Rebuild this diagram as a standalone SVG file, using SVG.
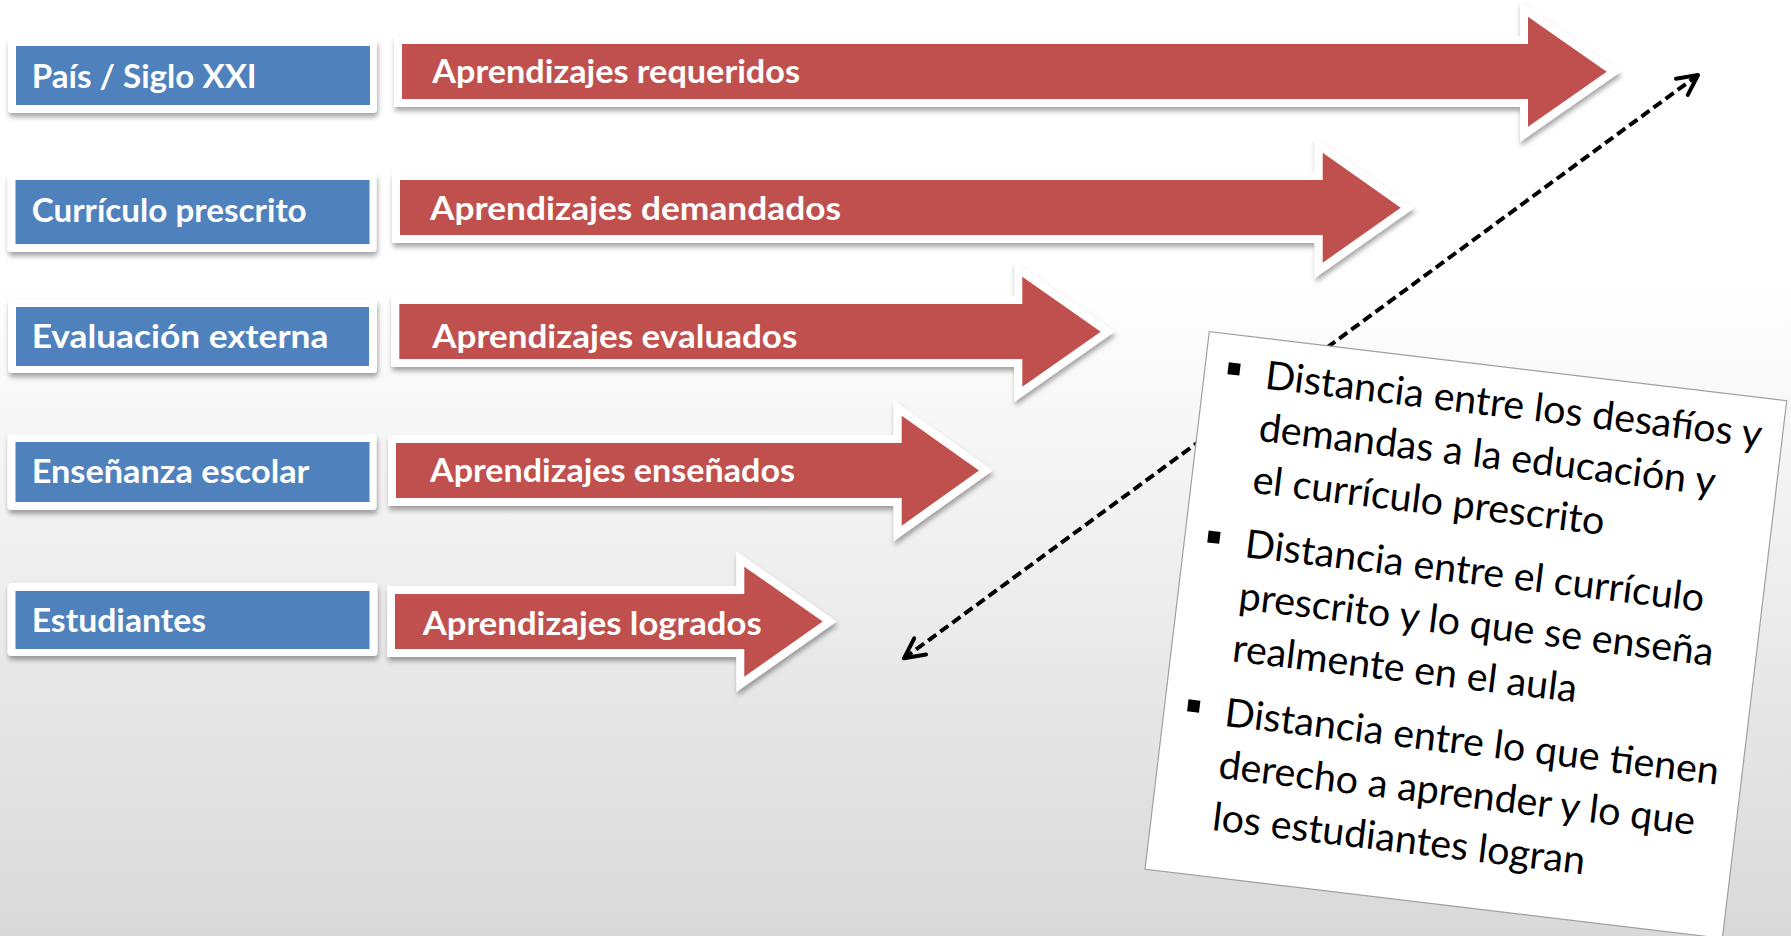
<svg xmlns="http://www.w3.org/2000/svg" width="1791" height="936" viewBox="0 0 1791 936">
<defs>
<linearGradient id="bg" x1="0" y1="0" x2="0" y2="1">
<stop offset="0" stop-color="#ffffff"/>
<stop offset="0.3" stop-color="#ffffff"/>
<stop offset="1" stop-color="#d9d9d9"/>
</linearGradient>
<filter id="sh" x="-5%" y="-30%" width="110%" height="170%">
<feDropShadow dx="1" dy="4" stdDeviation="2.5" flood-color="#000" flood-opacity="0.35"/>
</filter>
<marker id="chev" viewBox="-26 -15 30 30" markerWidth="30" markerHeight="30" refX="0" refY="0" orient="auto-start-reverse" markerUnits="userSpaceOnUse">
<path d="M-20,-10 L0,0 L-20,10" fill="none" stroke="#000" stroke-width="4" stroke-linecap="round" stroke-linejoin="round"/>
</marker>
</defs>
<style>
.frame{fill:#ffffff;filter:url(#sh);}
.blue{fill:#4f81bd;}
.aw{fill:#ffffff;stroke:#ffffff;stroke-width:16;stroke-linejoin:miter;filter:url(#sh);}
.ar{fill:#c0504d;}
.lbl{font-family:Lato,"Open Sans","Liberation Sans",sans-serif;font-size:33px;font-weight:bold;fill:#ffffff;}
.note{font-family:Lato,"Liberation Sans",sans-serif;font-size:39.4px;fill:#000000;}
.dash{fill:none;stroke:#000;stroke-width:4;stroke-dasharray:10 5;marker-start:url(#chev);marker-end:url(#chev);}
</style>
<rect x="0" y="0" width="1791" height="936" fill="url(#bg)"/>

<g id="node-pais">
<rect class="frame" x="8" y="39" width="369" height="74" rx="4"/>
<rect class="blue" x="16" y="46" width="354" height="59"/>
<text class="lbl" x="31.7" y="88.3" textLength="225" lengthAdjust="spacingAndGlyphs">País / Siglo XXI</text>
</g>
<g id="node-curriculo">
<rect class="frame" x="7.5" y="173" width="369" height="79" rx="4"/>
<rect class="blue" x="15.5" y="180" width="354" height="64"/>
<text class="lbl" x="31.7" y="221.7" textLength="275" lengthAdjust="spacingAndGlyphs">Currículo prescrito</text>
</g>
<g id="node-evaluacion">
<rect class="frame" x="8" y="299" width="369" height="74" rx="4"/>
<rect class="blue" x="16" y="307" width="353" height="59"/>
<text class="lbl" x="31.7" y="348.3" textLength="296.7" lengthAdjust="spacingAndGlyphs">Evaluación externa</text>
</g>
<g id="node-ensenanza">
<rect class="frame" x="7.5" y="434" width="369" height="76" rx="4"/>
<rect class="blue" x="15.5" y="442" width="354" height="60"/>
<text class="lbl" x="31.7" y="483.3" textLength="277.7" lengthAdjust="spacingAndGlyphs">Enseñanza escolar</text>
</g>
<g id="node-estudiantes">
<rect class="frame" x="7.5" y="583" width="370" height="73" rx="4"/>
<rect class="blue" x="15.5" y="591" width="354" height="58"/>
<text class="lbl" x="31.7" y="631.7" textLength="174.3" lengthAdjust="spacingAndGlyphs">Estudiantes</text>
</g>

<g id="arrow-requeridos">
<path class="aw" d="M402,44 H1528 V16.7 L1606.7,71.7 L1528,126.7 V99 H402 Z"/>
<path class="ar" d="M402,44 H1528 V16.7 L1606.7,71.7 L1528,126.7 V99 H402 Z"/>
<text class="lbl" x="432.3" y="83.3" textLength="367.7" lengthAdjust="spacingAndGlyphs">Aprendizajes requeridos</text>
</g>
<g id="arrow-demandados">
<path class="aw" d="M400,180 H1322.7 V152.7 L1400.7,207.7 L1322.7,262.7 V235 H400 Z"/>
<path class="ar" d="M400,180 H1322.7 V152.7 L1400.7,207.7 L1322.7,262.7 V235 H400 Z"/>
<text class="lbl" x="430" y="220" textLength="411" lengthAdjust="spacingAndGlyphs">Aprendizajes demandados</text>
</g>
<g id="arrow-evaluados">
<path class="aw" d="M399.3,304 H1022.3 V276.7 L1100.7,331.7 L1022.3,386.7 V359 H399.3 Z"/>
<path class="ar" d="M399.3,304 H1022.3 V276.7 L1100.7,331.7 L1022.3,386.7 V359 H399.3 Z"/>
<text class="lbl" x="432.3" y="348.3" textLength="365" lengthAdjust="spacingAndGlyphs">Aprendizajes evaluados</text>
</g>
<g id="arrow-ensenados">
<path class="aw" d="M396,443 H901.7 V415.7 L979,470.5 L901.7,525.7 V498 H396 Z"/>
<path class="ar" d="M396,443 H901.7 V415.7 L979,470.5 L901.7,525.7 V498 H396 Z"/>
<text class="lbl" x="430" y="481.7" textLength="365" lengthAdjust="spacingAndGlyphs">Aprendizajes enseñados</text>
</g>
<g id="arrow-logrados">
<path class="aw" d="M395,594 H744.3 V566.7 L822.7,621.5 L744.3,676.7 V649 H395 Z"/>
<path class="ar" d="M395,594 H744.3 V566.7 L822.7,621.5 L744.3,676.7 V649 H395 Z"/>
<text class="lbl" x="422.7" y="635" textLength="339" lengthAdjust="spacingAndGlyphs">Aprendizajes logrados</text>
</g>

<g id="connectors">
<path class="dash" d="M904,658.3 L1698,75"/>
</g>

<g id="node-distancias" transform="translate(1209.3,331.7) rotate(6.82)">
<rect x="0" y="0" width="581.5" height="541.4" fill="#ffffff" stroke="#a0a0a0" stroke-width="1.2"/>
<rect x="23" y="28" width="12" height="12" fill="#000"/>
<rect x="23" y="197.5" width="12" height="12" fill="#000"/>
<rect x="23" y="367.5" width="12" height="12" fill="#000"/>
<text class="note" x="61" y="50">Distancia entre los desafíos y</text>
<text class="note" x="61" y="102.5">demandas a la educación y</text>
<text class="note" x="61" y="155">el currículo prescrito</text>
<text class="note" x="61" y="219.5">Distancia entre el currículo</text>
<text class="note" x="61" y="272">prescrito y lo que se enseña</text>
<text class="note" x="61" y="324.5">realmente en el aula</text>
<text class="note" x="61" y="389.5">Distancia entre lo que tienen</text>
<text class="note" x="61" y="442">derecho a aprender y lo que</text>
<text class="note" x="61" y="494.5">los estudiantes logran</text>
</g>
</svg>
